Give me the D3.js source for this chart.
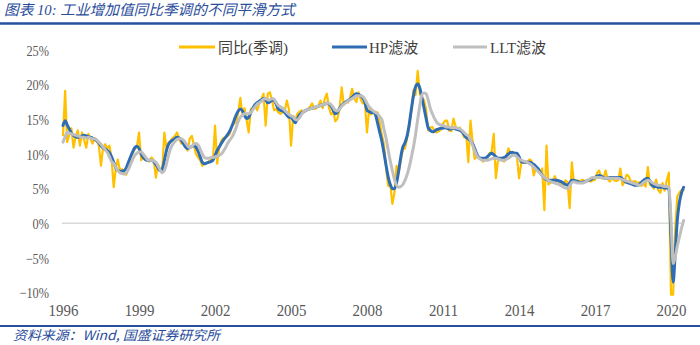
<!DOCTYPE html>
<html><head><meta charset="utf-8">
<script src="https://cdn.jsdelivr.net/npm/d3@7"></script>
<style>body{margin:0;background:#fff} svg{display:block}</style>
</head><body>
<svg id="chart" width="700" height="345"></svg>
<script>
// ---- data (monthly, first value = Jan 1996) ----
const startYear = 1996;
const seriesNames = ["同比(季调)", "HP滤波", "LLT滤波"];
const yoySA = [
 12.7,19.1,11.7,12.8,13.7,10.9,12.5,13.4,11.2,13.1,12.0,10.9,
 12.9,12.2,11.5,12.3,11.9,11.2,8.3,10.9,11.4,10.8,11.2,9.4,
 5.2,8.0,9.2,7.6,7.8,7.3,7.0,7.9,9.5,10.1,10.7,11.0,
 13.1,9.1,9.6,9.3,9.2,8.9,9.5,9.1,6.6,8.5,7.8,7.4,
 13.1,10.8,11.6,11.9,12.3,12.6,13.1,12.3,11.5,11.6,11.0,10.5,
 12.2,12.6,11.3,10.0,9.5,9.1,8.3,8.6,8.7,8.9,9.2,9.0,
 14.1,8.6,10.8,11.9,12.3,12.4,12.6,12.9,14.0,14.4,14.6,16.0,
 18.1,15.6,16.6,14.9,13.1,16.5,16.5,17.1,16.3,17.3,17.9,18.7,
 14.1,18.7,18.9,17.8,16.3,16.5,16.0,15.8,16.0,16.2,17.7,16.5,
 11.2,15.5,14.8,15.8,16.1,16.3,16.0,16.2,16.5,16.8,17.3,16.5,
 16.6,17.0,17.7,16.6,17.9,18.7,16.7,15.7,16.1,14.7,15.1,16.5,
 19.6,17.1,17.6,17.4,18.1,19.4,18.0,17.5,18.9,17.9,17.3,17.4,
 13.1,16.5,15.7,16.0,16.0,16.0,14.7,12.8,11.4,8.2,5.4,5.7,
 2.8,4.5,8.3,7.3,8.9,10.7,10.8,12.3,13.9,16.1,19.2,18.5,
 22.0,18.7,18.1,17.8,16.5,13.4,13.8,13.9,13.3,13.1,13.3,13.5,
 14.4,14.8,14.8,13.4,13.3,15.1,14.0,13.5,13.8,13.2,12.4,12.8,
 8.8,14.8,11.9,9.3,9.6,9.5,9.2,8.9,9.2,9.6,10.1,10.3,
 12.9,6.5,8.9,9.3,9.2,8.9,9.7,10.8,10.2,10.3,10.0,9.7,
 6.5,8.6,8.8,8.7,8.8,9.2,9.0,6.9,8.0,7.7,7.2,7.9,
 1.9,11.2,5.6,5.9,6.1,6.8,6.0,6.1,5.7,5.6,6.2,5.9,
 2.2,8.8,6.0,6.0,6.2,6.0,6.3,6.1,6.1,6.2,6.0,6.2,
 6.3,7.3,7.6,6.5,6.5,7.6,6.4,6.0,6.6,6.2,6.1,6.2,
 7.9,5.5,6.0,7.0,6.8,6.0,6.0,6.1,5.8,5.9,5.4,5.7,
 5.3,8.1,5.6,5.4,5.0,6.3,4.8,4.4,5.8,4.7,6.2,7.3,
 -10.3,-10.3,-1.1,3.9,4.4,4.8,4.8
];
const hpFilter = [
 14.1,14.8,14.2,13.6,13.0,12.7,12.5,12.4,12.5,12.6,12.7,12.6,
 12.5,12.4,12.3,12.1,11.9,11.6,11.2,10.9,10.7,10.5,10.2,9.6,
 8.8,8.0,7.6,7.5,7.5,7.6,8.0,8.8,9.6,10.3,10.9,11.1,
 10.8,10.0,9.5,9.2,9.1,9.1,9.1,8.9,8.5,8.0,7.6,7.8,
 9.0,10.5,11.4,11.8,12.0,12.2,12.4,12.3,12.0,11.5,11.0,10.8,
 10.9,11.1,11.2,11.0,10.4,9.6,8.8,8.6,8.7,8.8,8.9,9.1,
 9.8,10.5,11.0,11.5,12.0,12.4,12.8,13.3,14.0,14.8,15.6,16.2,
 16.5,16.2,15.6,15.1,15.3,16.0,16.6,17.1,17.4,17.6,17.8,18.0,
 17.8,17.4,17.5,17.8,17.7,17.2,16.5,16.3,16.2,16.0,15.6,15.3,
 15.3,14.9,14.5,15.0,15.6,15.9,16.1,16.3,16.4,16.5,16.6,16.7,
 16.8,16.9,17.0,17.1,17.2,17.3,17.2,16.9,16.3,15.8,16.0,16.6,
 17.0,17.3,17.5,17.7,17.9,18.2,18.5,18.7,18.6,18.4,18.1,17.5,
 16.3,16.1,16.0,16.0,15.7,14.5,13.2,11.9,10.2,8.4,6.7,5.6,
 5.0,5.0,5.8,7.5,9.5,11.0,11.6,12.6,14.3,16.4,18.4,19.7,
 20.1,19.5,18.2,16.7,15.2,13.8,13.4,13.2,13.3,13.5,13.6,13.7,
 13.7,13.8,13.7,13.6,13.6,13.7,13.6,13.5,13.4,13.2,12.8,12.4,
 12.2,11.9,11.5,10.8,10.0,9.5,9.4,9.4,9.4,9.6,9.9,10.1,
 9.9,9.6,9.4,9.4,9.4,9.5,9.7,10.0,10.2,10.2,10.1,10.1,
 9.6,8.9,8.8,8.8,8.8,8.8,8.7,8.5,8.2,7.9,7.4,6.9,
 6.5,6.3,6.2,6.2,6.2,6.2,6.2,6.1,6.0,5.8,5.6,5.5,
 5.8,6.2,6.2,6.1,6.0,5.9,5.9,6.0,6.1,6.2,6.3,6.5,
 6.6,6.8,6.9,6.8,6.6,6.5,6.5,6.6,6.6,6.6,6.6,6.6,
 6.6,6.4,6.1,5.9,5.8,5.7,5.6,5.5,5.5,5.6,5.9,6.2,
 6.4,6.5,6.1,5.5,5.3,5.3,5.2,5.2,5.2,5.1,5.1,5.0,
 -2.0,-8.5,-4.5,0.5,3.0,4.4,5.2
];
const lltFilter = [
 11.7,12.5,13.1,13.0,12.9,12.8,12.7,12.6,12.5,12.4,12.4,12.3,
 12.4,12.3,12.2,12.2,12.0,11.7,11.4,11.0,10.6,10.2,9.6,8.9,
 8.6,8.1,7.6,7.3,7.2,7.1,7.3,7.8,8.5,9.2,9.8,10.1,
 10.3,10.3,10.0,9.6,9.2,9.1,9.1,9.0,8.8,8.3,7.7,7.3,
 7.6,8.6,9.8,10.8,11.4,11.8,12.1,12.2,12.2,12.0,11.6,11.2,
 10.9,11.1,11.4,11.5,11.3,10.7,10.0,9.5,9.4,9.4,9.5,9.5,
 9.6,9.7,9.8,10.0,10.4,10.9,11.5,12.0,12.4,13.0,13.8,14.7,
 15.3,15.6,15.8,15.8,15.8,16.0,16.4,16.8,17.2,17.4,17.6,17.9,
 18.0,17.8,17.8,18.0,17.9,17.4,17.0,16.8,16.6,16.3,16.0,15.7,
 15.5,15.3,15.0,14.9,15.2,15.7,16.1,16.3,16.4,16.5,16.6,16.7,
 16.8,16.9,17.0,17.1,17.2,17.3,17.3,17.1,16.7,16.3,16.2,16.5,
 16.9,17.2,17.4,17.6,17.8,18.0,18.2,18.4,18.4,18.4,18.3,17.9,
 17.3,16.8,16.5,16.2,16.0,15.8,15.4,15.0,13.6,12.3,10.6,9.0,
 7.6,6.3,5.5,5.2,5.3,5.6,6.2,7.0,8.1,9.5,11.0,12.8,
 15.0,17.0,18.5,18.8,18.7,17.8,16.6,15.8,15.1,14.6,14.3,14.2,
 14.1,14.0,13.9,13.9,13.8,13.8,13.8,13.7,13.6,13.4,13.1,12.8,
 12.6,12.0,11.3,10.5,9.8,9.4,9.2,9.1,9.1,9.1,9.2,9.3,
 9.4,9.4,9.3,9.2,9.1,9.1,9.2,9.4,9.6,9.8,9.8,9.6,
 9.3,9.1,9.0,8.9,8.8,8.6,8.4,8.1,7.8,7.5,7.2,6.9,
 6.6,6.4,6.2,6.0,5.9,5.8,5.7,5.6,5.4,5.2,5.1,5.0,
 5.4,5.9,6.0,5.9,5.8,5.8,5.8,5.9,6.1,6.3,6.5,6.6,
 6.6,6.6,6.6,6.6,6.5,6.5,6.5,6.5,6.5,6.5,6.5,6.5,
 6.4,6.3,6.2,6.1,6.0,5.9,5.8,5.7,5.6,5.5,5.6,5.9,
 6.1,6.2,6.1,5.9,5.7,5.6,5.5,5.5,5.4,5.3,5.3,5.2,
 0.5,-5.8,-4.8,-3.3,-2.0,-0.7,0.4
];
const xTickYears = [1996, 1999, 2002, 2005, 2008, 2011, 2014, 2017, 2020];
const yTickValues = [-10, -5, 0, 5, 10, 15, 20, 25];

// ---- drawing ----
const svg = d3.select("#chart");
const dateOf = i => new Date(startYear, i, 1);
const x = d3.scaleTime()
  .domain([new Date(1996, 0, 1), new Date(2020, 0, 1)])
  .range([63, 671]);
const y = d3.scaleLinear().domain([-10, 25]).range([292.6, 50]);

const blueDark = "#2A4C9B";
const serif = "'Liberation Serif','Noto Sans CJK SC',serif";

// title
svg.append("text").attr("x", 4).attr("y", 15)
  .attr("font-family", "'Liberation Serif','Noto Sans CJK SC',sans-serif")
  .attr("font-style", "italic").attr("font-size", 14.5)
  .attr("fill", blueDark)
  .attr("textLength", 291).attr("lengthAdjust", "spacingAndGlyphs")
  .text("图表 10:  工业增加值同比季调的不同平滑方式");
svg.append("line").attr("x1", 0).attr("x2", 700).attr("y1", 23.5).attr("y2", 23.5)
  .attr("stroke", "#2450A0").attr("stroke-width", 2.5);

// bottom rule + source
svg.append("line").attr("x1", 0).attr("x2", 700).attr("y1", 326).attr("y2", 326)
  .attr("stroke", "#2450A0").attr("stroke-width", 2);
svg.append("text").attr("x", 13).attr("y", 340)
  .attr("font-family", "'Noto Sans CJK SC',sans-serif")
  .attr("font-style", "italic").attr("font-size", 13)
  .attr("fill", blueDark)
  .attr("textLength", 207).attr("lengthAdjust", "spacingAndGlyphs")
  .text("资料来源：Wind, 国盛证券研究所");

// zero line
svg.append("line").attr("x1", 62).attr("x2", 684)
  .attr("y1", y(0)).attr("y2", y(0))
  .attr("stroke", "#D9D9D9").attr("stroke-width", 1.5);

// y axis
const yAxis = d3.axisLeft(y).tickValues(yTickValues).tickSize(0).tickPadding(0)
  .tickFormat(d => (d < 0 ? "\u2212" : "") + Math.abs(d) + "%");
const gy = svg.append("g").attr("transform", "translate(49,0)").call(yAxis);
gy.select(".domain").remove();
gy.selectAll("text").attr("font-family", serif).attr("font-size", 15)
  .attr("fill", "#595959").attr("dy", "0.35em")
  .each(function () {
    const L = this.getComputedTextLength();
    d3.select(this).attr("textLength", L * 0.82).attr("lengthAdjust", "spacingAndGlyphs");
  });

// x axis
const xAxis = d3.axisBottom(x).tickValues(xTickYears.map(yr => new Date(yr, 0, 1)))
  .tickSize(0).tickPadding(0).tickFormat(d3.timeFormat("%Y"));
const gx = svg.append("g").attr("transform", "translate(0,315.5)").call(xAxis);
gx.select(".domain").remove();
gx.selectAll("text").attr("font-family", serif).attr("font-size", 16)
  .attr("fill", "#595959").attr("dy", 0).attr("y", 0)
  .each(function () {
    const L = this.getComputedTextLength();
    d3.select(this).attr("textLength", L * 0.93).attr("lengthAdjust", "spacingAndGlyphs");
  });

// lines
const series = [
  { name: seriesNames[0], values: yoySA, color: "#FFC000", width: 2.2, curve: d3.curveLinear },
  { name: seriesNames[1], values: hpFilter, color: "#2E6DB4", width: 3, curve: d3.curveMonotoneX },
  { name: seriesNames[2], values: lltFilter, color: "#BFBFBF", width: 3, curve: d3.curveMonotoneX }
];
series.forEach(s => {
  const line = d3.line().x((d, i) => x(dateOf(i))).y(d => y(d)).curve(s.curve);
  svg.append("path").datum(s.values).attr("d", line)
    .attr("fill", "none").attr("stroke", s.color).attr("stroke-width", s.width)
    .attr("stroke-linejoin", "round").attr("stroke-linecap", "round");
});

// legend
const legendPos = [{ x1: 179, x2: 215, tx: 218 }, { x1: 332, x2: 367, tx: 369 }, { x1: 453, x2: 487, tx: 490 }];
series.forEach((s, i) => {
  const p = legendPos[i];
  svg.append("line").attr("x1", p.x1).attr("x2", p.x2).attr("y1", 47).attr("y2", 47)
    .attr("stroke", s.color).attr("stroke-width", 3);
  svg.append("text").attr("x", p.tx).attr("y", 52.5)
    .attr("font-family", serif).attr("font-size", 15).attr("fill", "#404040")
    .text(s.name);
});
</script>
</body></html>
